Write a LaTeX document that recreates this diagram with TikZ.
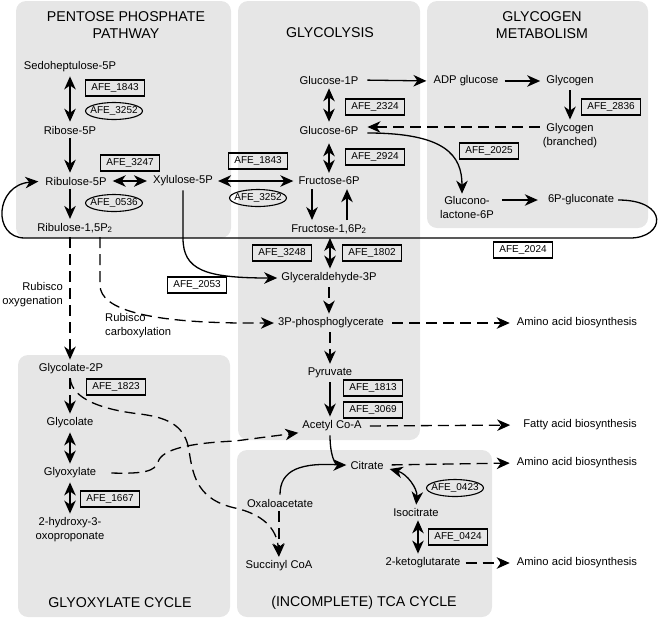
\documentclass[tikz,border=0pt]{standalone}
\usepackage{fontspec}
\setmainfont{Liberation Sans}
\usetikzlibrary{arrows.meta,shapes.geometric}
\definecolor{panel}{RGB}{230,230,230}
\pgfdeclarelayer{panelsA}
\pgfsetlayers{panelsA,main}
\begin{document}
\begin{tikzpicture}[x=1pt,y=-1pt,
  met/.style={font=\fontsize{11.2}{14}\selectfont, inner sep=1pt, align=center},
  ttl/.style={font=\fontsize{14.2}{17}\selectfont, inner sep=0pt, align=center},
  gene/.style={draw, line width=1.1pt, font=\fontsize{10}{12}\selectfont, inner xsep=5.5pt, inner ysep=3.5pt, text height=7.2pt, text depth=1.8pt},
  enz/.style={draw, ellipse, line width=1.1pt, font=\fontsize{10}{12}\selectfont, inner xsep=-3.5pt, inner ysep=1.5pt, text height=7.2pt, text depth=1.8pt},
  pnl/.style={fill=panel, rounded corners=10pt},
  con/.style={line width=1.3pt, shorten >=3pt, shorten <=3pt},
  dsh/.style={dash pattern=on 11pt off 6pt},
  >={Stealth[length=13pt,width=11.5pt,inset=4pt]},
]
\useasboundingbox (0,0) rectangle (660,619);
\begin{pgfonlayer}{panelsA}
\fill[pnl] (16,1) rectangle (231,238);
\fill[pnl] (427,1) rectangle (648,228);
\fill[pnl] (18,355) rectangle (230,617);
\fill[pnl] (237,450) rectangle (492,617);
\fill[pnl] (238,1) rectangle (420,440);
\end{pgfonlayer}

% titles
\node[ttl] (tppp) at (126,25.5) {PENTOSE PHOSPHATE\\PATHWAY};
\node[ttl] (tgly) at (330,33) {GLYCOLYSIS};
\node[ttl] (tglg) at (542,25.5) {GLYCOGEN\\METABOLISM};
\node[ttl] (tglx) at (120,603) {GLYOXYLATE CYCLE};
\node[ttl] (ttca) at (364,603) {(INCOMPLETE) TCA CYCLE};

% metabolites
\node[met] (sed) at (70,67) {Sedoheptulose-5P};
\node[met] (r5p) at (70,130) {Ribose-5P};
\node[met] (ru5p) at (76,181) {Ribulose-5P};
\node[met] (xu5p) at (183,181) {Xylulose-5P};
\node[met] (rubp) at (75,228) {Ribulose-1,5P\textsubscript{2}};
\node[met] (g1p) at (329,80) {Glucose-1P};
\node[met] (g6p) at (329,130) {Glucose-6P};
\node[met] (f6p) at (329,181) {Fructose-6P};
\node[met] (fbp) at (329,229) {Fructose-1,6P\textsubscript{2}};
\node[met] (gap) at (329,278) {Glyceraldehyde-3P};
\node[met] (pga) at (331,323) {3P-phosphoglycerate};
\node[met] (pyr) at (330,373) {Pyruvate};
\node[met] (aca) at (332,426) {Acetyl Co-A};
\node[met] (adpg) at (466,81) {ADP glucose};
\node[met] (glyc) at (570,81) {Glycogen};
\node[met] (gbr) at (570,136) {Glycogen\\(branched)};
\node[met] (gl6p) at (467,207) {Glucono-\\lactone-6P};
\node[met] (pgn) at (581,200) {6P-gluconate};
\node[met] (aa1) at (577,323) {Amino acid biosynthesis};
\node[met] (fa) at (580,425) {Fatty acid biosynthesis};
\node[met] (aa2) at (577,463) {Amino acid biosynthesis};
\node[met] (aa3) at (577,563) {Amino acid biosynthesis};
\node[met] (g2p) at (71,369) {Glycolate-2P};
\node[met] (glc) at (70,423) {Glycolate};
\node[met] (glx) at (70,473) {Glyoxylate};
\node[met] (hop) at (70,530) {2-hydroxy-3-\\oxoproponate};
\node[met] (oaa) at (280,503) {Oxaloacetate};
\node[met] (suc) at (279,566) {Succinyl CoA};
\node[met] (cit) at (367,465) {Citrate};
\node[met] (icit) at (416,512) {Isocitrate};
\node[met] (akg) at (423,563) {2-ketoglutarate};
\node[met, align=right, anchor=east] (rox) at (64,295) {Rubisco\\oxygenation};
\node[met, align=left, anchor=west] (rcx) at (104,326) {Rubisco\\carboxylation};

% genes
\node[gene] (b1843a) at (115,88) {AFE\_1843};
\node[enz] (e3252a) at (114,111) {AFE\_3252};
\node[gene] (b3247) at (130,163) {AFE\_3247};
\node[enz] (e0536) at (114,203) {AFE\_0536};
\node[gene] (b1843b) at (258,161) {AFE\_1843};
\node[enz] (e3252b) at (258,198) {AFE\_3252};
\node[gene] (b2324) at (375,107) {AFE\_2324};
\node[gene] (b2924) at (375,157) {AFE\_2924};
\node[gene] (b2836) at (611,107) {AFE\_2836};
\node[gene] (b2025) at (489,151) {AFE\_2025};
\node[gene] (b2024) at (523,250) {AFE\_2024};
\node[gene] (b3248) at (282,253) {AFE\_3248};
\node[gene] (b1802) at (372,253) {AFE\_1802};
\node[gene] (b2053) at (197,285) {AFE\_2053};
\node[gene] (b1813) at (373,388) {AFE\_1813};
\node[gene] (b3069) at (373,410) {AFE\_3069};
\node[gene] (b1823) at (116,387) {AFE\_1823};
\node[gene] (b1667) at (110,499) {AFE\_1667};
\node[enz] (e0423) at (455,488) {AFE\_0423};
\node[gene] (b0424) at (458,537) {AFE\_0424};

% helper coordinates
\path (g6p.east) ++(0,-3) coordinate (g6pa);
\path (g6p.east) ++(0,3) coordinate (g6pb);

% loop 6P-gluconate -> Ribulose-5P
\draw[con,->,shorten >=6pt] (pgn.east) .. controls (670,200) and (665,238) .. (630,238) -- (25,238) .. controls (-8,238) and (-5,185) .. (ru5p.west);

% pentose phosphate
\draw[con,<->] (sed.south) -- (r5p.north);
\draw[con,->] (r5p.south) -- (r5p.south |- ru5p.north);
\draw[con,<->,shorten <=5pt,shorten >=5pt] (ru5p.east) -- (xu5p.west);
\draw[con,->] (r5p.south |- ru5p.south) -- (r5p.south |- rubp.north);
\draw[con,<->,shorten <=4pt,shorten >=4pt] (xu5p.east) -- (f6p.west);
\draw[con,->] (xu5p.south) -- (183,238) .. controls (183,270) and (205,278) .. (gap.west);

% glycolysis
\draw[con,<->] (g1p.south) -- (g6p.north);
\draw[con,<->,shorten <=8pt] (g6p.south) -- (f6p.north);
\draw[con,->] ([xshift=-17pt]f6p.south) -- ([xshift=-17pt]f6p.south |- fbp.north);
\draw[con,->] ([xshift=18pt]f6p.south |- fbp.north) -- ([xshift=18pt]f6p.south);
\draw[con,<->] ([xshift=1pt]fbp.south) -- ([xshift=1pt]gap.north);
\draw[con,dsh,->] (gap.south) -- (gap.south |- pga.north);
\draw[con,dsh,->,shorten <=7pt,shorten >=6pt] (pga.east) -- (aa1.west);
\draw[con,dsh,->] ([xshift=-1pt]pga.south) -- (pyr.north);
\draw[con,->] (pyr.south) -- (pyr.south |- aca.north);
\draw[con,dsh,->,shorten <=7pt,shorten >=12pt] (aca.east) -- (fa.west);

% glycogen
\draw[con,->,shorten <=8pt,shorten >=6pt] (g1p.east) -- (adpg.west);
\draw[con,->,shorten <=5pt,shorten >=5pt] (adpg.east) -- (glyc.west);
\draw[con,->] (glyc.south) -- (gbr.north);
\draw[con,dsh,->,shorten <=2pt,shorten >=8pt] (gbr.west |- g6pa) -- (g6pa);
\draw[con,->,shorten <=8pt,shorten >=1pt] (g6pb) .. controls (445,133) and (462,155) .. ([xshift=-5pt]gl6p.north);
\draw[con,->,shorten <=7pt,shorten >=9pt] (gl6p.east |- pgn.west) -- (pgn.west);

% rubisco
\draw[con,dsh,->] ([xshift=-5pt]rubp.south) -- ([xshift=-5pt]rubp.south |- g2p.north);
\draw[con,dsh,->] ([xshift=25pt]rubp.south) -- (100,285) .. controls (100,310) and (150,322) .. (240,323) -- (pga.west);

% glyoxylate
\draw[con,dsh,->] ([xshift=-1pt]g2p.south) -- (glc.north);
\draw[con,dsh,->] ([xshift=-1pt]g2p.south) .. controls (72,400) and (105,410) .. (140,414) .. controls (172,418) and (185,428) .. (189,450) .. controls (193,480) and (200,500) .. (235,508) .. controls (262,514) and (277,528) .. (suc.north);
\draw[con,<->] (glc.south) -- (glx.north);
\draw[con,<->] (glx.south) -- (hop.north);
\draw[con,dsh,->,shorten <=0pt] ([xshift=14pt]glx.east) .. controls (145,474) and (155,471) .. (158,462) .. controls (162,449) and (190,443) .. (235,441) -- (aca.south west);

% TCA
\draw[con,->] ([xshift=-2pt]aca.south) .. controls (330,455) and (335,465) .. (cit.west);
\draw[con,shorten >=0pt] (oaa.north) .. controls (280,470) and (300,462) .. ([xshift=-8pt]cit.west);
\draw[con,dsh,->] ([xshift=-1pt]oaa.south) -- (suc.north);
\draw[con,dsh,->,shorten <=7pt,shorten >=6pt] (cit.east) -- (aa2.west);
\draw[con,<->,shorten <=0pt,shorten >=2pt] ([shift={(5pt,-4pt)}]cit.east) to[bend left=40] (icit.north);
\draw[con,<->] ([xshift=2pt]icit.south) -- ([xshift=2pt]icit.south |- akg.north);
\draw[con,dsh,->,shorten <=4pt,shorten >=6pt] (akg.east) -- (aa3.west);
\end{tikzpicture}
\end{document}
